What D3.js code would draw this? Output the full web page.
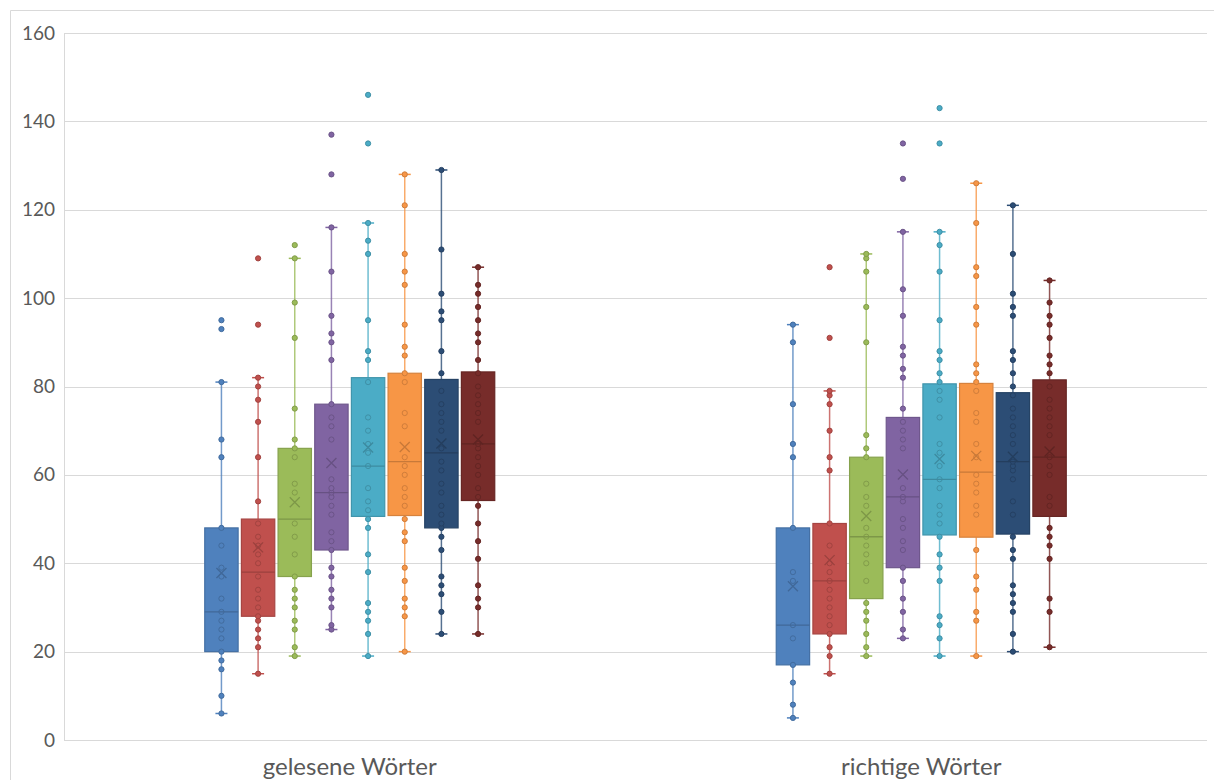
<!DOCTYPE html>
<html>
  <head>
    <meta charset="utf-8" />
    <title>Boxplot Wörter</title>
    <script src="https://d3js.org/d3.v7.min.js"></script>
    <style>
      body { margin: 0; background: #fff; }
      text { font-family: Lato, "Open Sans", sans-serif; fill: #595959; }
    </style>
  </head>
  <body>
    <svg id="chart" width="1214" height="780"></svg>
    <script>
      // categories and tick values
      var categories = ["gelesene Wörter", "richtige Wörter"];
      var yTicks = [0, 20, 40, 60, 80, 100, 120, 140, 160];
      var seriesColors = ["#4F81BD", "#C0504D", "#9BBB59", "#8064A2", "#4BACC6", "#F79646", "#2C4D75", "#772C2A"];

      // box statistics, one row per category, one value per series
      var q1 = [
        [20, 28, 37, 43, 50.6, 50.8, 48, 54.2],
        [17, 24, 32, 39, 46.4, 45.9, 46.6, 50.6]
      ];
      var median = [
        [29, 38, 50, 56, 62, 63, 65, 67],
        [26, 36, 46, 55, 59, 60.6, 63, 64]
      ];
      var q3 = [
        [48, 50, 66, 76, 82, 83, 81.6, 83.3],
        [48, 49, 64, 73, 80.6, 80.7, 78.6, 81.5]
      ];
      var whiskerLow = [
        [6, 15, 19, 25, 19, 20, 24, 24],
        [5, 15, 19, 23, 19, 19, 20, 21]
      ];
      var whiskerHigh = [
        [81, 82, 109, 116, 117, 128, 129, 107],
        [94, 79, 110, 115, 115, 126, 121, 104]
      ];
      var means = [
        [37.8, 43.6, 53.8, 62.7, 66.2, 66.3, 67.1, 68],
        [34.8, 40.7, 50.7, 60.1, 63.6, 64.3, 64.1, 65.3]
      ];

      // single values
      var pointsRead = [
        [6, 10, 16, 18, 20, 23, 25, 27, 29, 32, 37, 39, 44, 48, 64, 68, 81, 93, 95],
        [15, 21, 23, 25, 27, 28, 30, 32, 34, 37, 40, 42, 44, 46, 49, 54, 64, 72, 77, 80, 82, 94, 109],
        [19, 21, 25, 27, 30, 32, 34, 37, 42, 46, 49, 56, 58, 64, 66, 68, 75, 91, 99, 109, 112],
        [25, 26, 30, 32, 34, 37, 39, 43, 45, 47, 51, 53, 55, 56, 57, 59, 68, 71, 73, 76, 86, 90, 92, 96, 106, 116, 128, 137],
        [19, 24, 27, 29, 31, 38, 42, 48, 50, 52, 54, 57, 62, 65, 67, 70, 73, 81, 86, 88, 95, 110, 113, 117, 135, 146],
        [20, 28, 30, 32, 36, 39, 45, 47, 50, 53, 55, 57, 60, 62, 64, 71, 74, 81, 83, 87, 89, 94, 103, 106, 110, 121, 128],
        [24, 29, 33, 35, 37, 43, 46, 48, 49, 51, 53, 56, 58, 61, 63, 66, 70, 72, 74, 76, 79, 83, 88, 95, 97, 101, 111, 129],
        [24, 30, 32, 35, 41, 45, 49, 53, 55, 57, 60, 62, 64, 66, 67, 72, 74, 76, 78, 80, 83, 86, 90, 92, 95, 98, 101, 103, 107]
      ];
      var pointsRight = [
        [5, 8, 13, 17, 23, 26, 36, 38, 48, 64, 67, 76, 90, 94],
        [15, 19, 21, 24, 26, 28, 30, 32, 34, 36, 38, 40, 44, 49, 61, 64, 70, 76, 78, 79, 91, 107],
        [19, 21, 24, 27, 29, 31, 36, 40, 42, 44, 46, 48, 53, 55, 58, 64, 66, 69, 90, 98, 106, 109, 110],
        [23, 25, 29, 32, 36, 39, 43, 45, 48, 50, 54, 55, 57, 66, 68, 70, 72, 75, 82, 84, 87, 89, 96, 102, 115, 127, 135],
        [19, 23, 26, 28, 36, 39, 42, 46, 49, 51, 53, 57, 59, 62, 65, 67, 73, 77, 79, 81, 83, 86, 88, 95, 106, 112, 115, 135, 143],
        [19, 27, 29, 34, 37, 43, 51, 53, 56, 58, 60, 64, 67, 72, 74, 79, 81, 83, 85, 94, 98, 105, 107, 117, 126],
        [20, 24, 29, 31, 33, 35, 41, 43, 46, 51, 54, 59, 61, 62, 63, 67, 69, 71, 73, 75, 78, 80, 83, 86, 88, 96, 98, 101, 110, 121],
        [21, 29, 32, 41, 44, 46, 48, 53, 55, 60, 62, 64, 69, 71, 73, 75, 77, 80, 83, 85, 87, 91, 94, 96, 99, 104]
      ];
      var points = [pointsRead, pointsRight];

      var svg = d3.select("#chart");
      var plotLeft = 64, plotRight = 1207, plotTop = 33, plotBottom = 740;

      // chart frame
      svg.append("path")
        .attr("d", "M10.5,780 V10.5 H1214")
        .attr("fill", "none")
        .attr("stroke", "#d9d9d9");

      var y = d3.scaleLinear().domain([0, 160]).range([plotBottom, plotTop]);
      var x0 = d3.scaleBand().domain(categories).range([plotLeft, plotRight]);
      var x1 = d3.scaleBand().domain(d3.range(8))
        .range([x0.bandwidth() / 2 - 145, x0.bandwidth() / 2 + 145])
        .paddingInner(0.09);

      // gridlines
      svg.append("g").selectAll("line")
        .data(yTicks)
        .join("line")
        .attr("x1", plotLeft).attr("x2", plotRight)
        .attr("y1", function(d){ return Math.round(y(d)) + 0.5; })
        .attr("y2", function(d){ return Math.round(y(d)) + 0.5; })
        .attr("stroke", "#d9d9d9")
        .attr("stroke-width", 1);

      svg.append("line")
        .attr("x1", plotLeft + 0.5).attr("x2", plotLeft + 0.5)
        .attr("y1", y(160)).attr("y2", y(0))
        .attr("stroke", "#d9d9d9");

      // y axis labels
      var yAxis = d3.axisLeft(y).tickValues(yTicks).tickSize(0).tickPadding(8);
      var gy = svg.append("g").attr("transform", "translate(" + (plotLeft - 1) + ",0)").call(yAxis);
      gy.select(".domain").remove();
      gy.selectAll("text").style("font-size", "19px").attr("fill", "#595959")
        .style("font-family", "Lato, 'Open Sans', sans-serif");

      // x axis labels
      var xAxis = d3.axisBottom(x0).tickSize(0).tickPadding(18);
      var gx = svg.append("g").attr("transform", "translate(0," + plotBottom + ")").call(xAxis);
      gx.select(".domain").remove();
      gx.selectAll("text").style("font-size", "24px").attr("fill", "#595959")
        .style("font-family", "Lato, 'Open Sans', sans-serif");

      // one group per category, one box per series
      categories.forEach(function(cat, ci) {
        var g = svg.append("g").attr("transform", "translate(" + x0(cat) + ",0)");
        var bw = x1.bandwidth();

        var boxes = g.selectAll("g.box")
          .data(d3.range(8))
          .join("g")
          .attr("class", "box")
          .attr("transform", function(si){ return "translate(" + x1(si) + ",0)"; });

        boxes.each(function(si) {
          var b = d3.select(this);
          var col = seriesColors[si];
          var cx = bw / 2;

          // whiskers
          [[whiskerLow[ci][si], q1[ci][si]], [q3[ci][si], whiskerHigh[ci][si]]].forEach(function(w) {
            b.append("line")
              .attr("x1", cx).attr("x2", cx)
              .attr("y1", y(w[0])).attr("y2", y(w[1]))
              .attr("stroke", col).attr("stroke-opacity", 0.8).attr("stroke-width", 1.5);
          });
          [whiskerLow[ci][si], whiskerHigh[ci][si]].forEach(function(v) {
            b.append("line")
              .attr("x1", cx - 6).attr("x2", cx + 6)
              .attr("y1", y(v)).attr("y2", y(v))
              .attr("stroke", col).attr("stroke-width", 1.5);
          });

          // box
          b.append("rect")
            .attr("x", 0).attr("width", bw)
            .attr("y", y(q3[ci][si]))
            .attr("height", y(q1[ci][si]) - y(q3[ci][si]))
            .attr("fill", col)
            .attr("stroke", d3.color(col).darker(0.4))
            .attr("stroke-width", 1.2);

          // points
          b.selectAll("circle")
            .data(points[ci][si])
            .join("circle")
            .attr("cx", cx)
            .attr("cy", function(d){ return y(d); })
            .attr("r", 2.6)
            .attr("fill", col)
            .attr("stroke", d3.color(col).darker(0.5))
            .attr("stroke-width", 1);

          // median
          b.append("line")
            .attr("x1", 0).attr("x2", bw)
            .attr("y1", y(median[ci][si])).attr("y2", y(median[ci][si]))
            .attr("stroke", d3.color(col).darker(0.6))
            .attr("stroke-width", 1.3);

          // mean marker
          var my = y(means[ci][si]);
          b.append("path")
            .attr("d", "M" + (cx - 5) + "," + (my - 5) + "L" + (cx + 5) + "," + (my + 5) +
                       "M" + (cx - 5) + "," + (my + 5) + "L" + (cx + 5) + "," + (my - 5))
            .attr("stroke", d3.color(col).darker(0.6))
            .attr("stroke-width", 1.3)
            .attr("fill", "none");
        });
      });
    </script>
  </body>
</html>
